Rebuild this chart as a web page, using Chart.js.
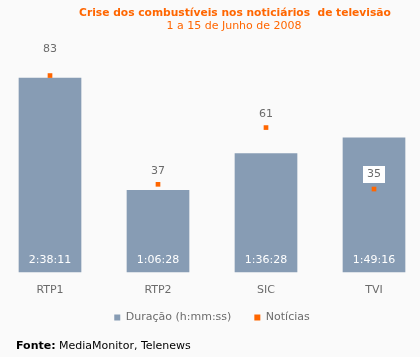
<!DOCTYPE html>
<html>
<head>
<meta charset="utf-8">
<script src="https://cdn.jsdelivr.net/npm/chart.js@4/dist/chart.umd.min.js"></script>
<style>
  html, body { margin: 0; padding: 0; background: #fafafa; }
  #wrap { position: relative; width: 420px; height: 357px; }
  #fonte { position: absolute; left: 16px; top: 339px; font: 11px "DejaVu Sans", Verdana, sans-serif; color: #000; white-space: nowrap; }
</style>
</head>
<body>
<div id="wrap">
  <canvas id="c" width="420" height="357"></canvas>
  <div id="fonte"><b>Fonte:</b> MediaMonitor, Telenews</div>
</div>
<script>
const categories = ["RTP1", "RTP2", "SIC", "TVI"];
const durationLabels = ["2:38:11", "1:06:28", "1:36:28", "1:49:16"];
const noticias = [83, 37, 61, 35];
const chartTitle = "Crise dos combustíveis nos noticiários  de televisão";
const chartSubtitle = "1 a 15 de Junho de 2008";
const seriesNames = ["Duração (h:mm:ss)", "Notícias"];

function toSeconds(s) {
  const p = s.split(":").map(Number);
  return p[0] * 3600 + p[1] * 60 + p[2];
}
const durationSeconds = durationLabels.map(toSeconds);

const FONT = '"DejaVu Sans", Verdana, sans-serif';
const BAR = '#879cb4';
const ORANGE = '#ff6600';
const GREY = '#6b6b6b';
const labelLift = [27, 14, 14, 15];
const legendShift = 12;

const labelPlugin = {
  id: 'labels',
  afterLayout(chart) {
    if (chart.legend) {
      chart.legend.top -= legendShift;
      chart.legend.bottom -= legendShift;
    }
  },
  afterDatasetsDraw(chart) {
    const ctx = chart.ctx;
    ctx.save();
    ctx.font = '11px ' + FONT;
    ctx.textAlign = 'center';
    ctx.textBaseline = 'middle';
    const barMeta = chart.getDatasetMeta(0);
    barMeta.data.forEach((el, i) => {
      ctx.fillStyle = '#ffffff';
      ctx.fillText(durationLabels[i], el.x, chart.scales.y.getPixelForValue(0) - 12);
    });
    const ptMeta = chart.getDatasetMeta(1);
    ptMeta.data.forEach((el, i) => {
      const txt = String(noticias[i]);
      const y = el.y - labelLift[i];
      const bar = barMeta.data[i];
      if (y > bar.y) {
        const w = ctx.measureText(txt).width + 8;
        ctx.fillStyle = '#ffffff';
        ctx.fillRect(Math.round(el.x - w / 2), Math.round(y - 8), Math.round(w), 17);
      }
      ctx.fillStyle = GREY;
      ctx.fillText(txt, el.x, y + 0.5);
    });
    ctx.restore();
  },
  afterDraw(chart) {
    const ctx = chart.ctx;
    ctx.save();
    ctx.textAlign = 'center';
    ctx.textBaseline = 'middle';
    ctx.fillStyle = ORANGE;
    ctx.font = 'bold 10.7px ' + FONT;
    ctx.fillText(chartTitle, 235, 13);
    ctx.font = '11px ' + FONT;
    ctx.fillText(chartSubtitle, 234, 26);
    ctx.restore();
  }
};

new Chart(document.getElementById('c'), {
  data: {
    labels: categories,
    datasets: [
      {
        type: 'bar',
        label: seriesNames[0],
        data: durationSeconds,
        backgroundColor: BAR,
        barThickness: 62,
        yAxisID: 'y',
        clip: false,
        order: 2
      },
      {
        type: 'line',
        label: seriesNames[1],
        data: noticias,
        showLine: false,
        pointStyle: 'rect',
        pointRadius: 3.3,
        pointHoverRadius: 3.3,
        pointBackgroundColor: ORANGE,
        pointBorderWidth: 0,
        borderColor: ORANGE,
        backgroundColor: ORANGE,
        yAxisID: 'y1',
        clip: false,
        order: 1
      }
    ]
  },
  options: {
    responsive: false,
    animation: false,
    layout: { padding: { top: 59, left: 50, right: 46, bottom: 12 } },
    scales: {
      x: {
        offset: false,
        grid: { display: false },
        border: { display: false },
        ticks: { color: GREY, font: { family: FONT, size: 11 }, padding: 4 }
      },
      y: { display: false, min: 0, max: 10420 },
      y1: { display: false, min: 0, max: 90, position: 'right' }
    },
    plugins: {
      legend: {
        position: 'bottom',
        labels: {
          color: GREY,
          font: { family: FONT, size: 11 },
          usePointStyle: true,
          pointStyle: 'rect',
          boxWidth: 6,
          boxHeight: 6,
          padding: 23,
          sort: (a, b) => a.datasetIndex - b.datasetIndex
        }
      },
      title: { display: false },
      tooltip: { enabled: false }
    }
  },
  plugins: [labelPlugin]
});
</script>
</body>
</html>
